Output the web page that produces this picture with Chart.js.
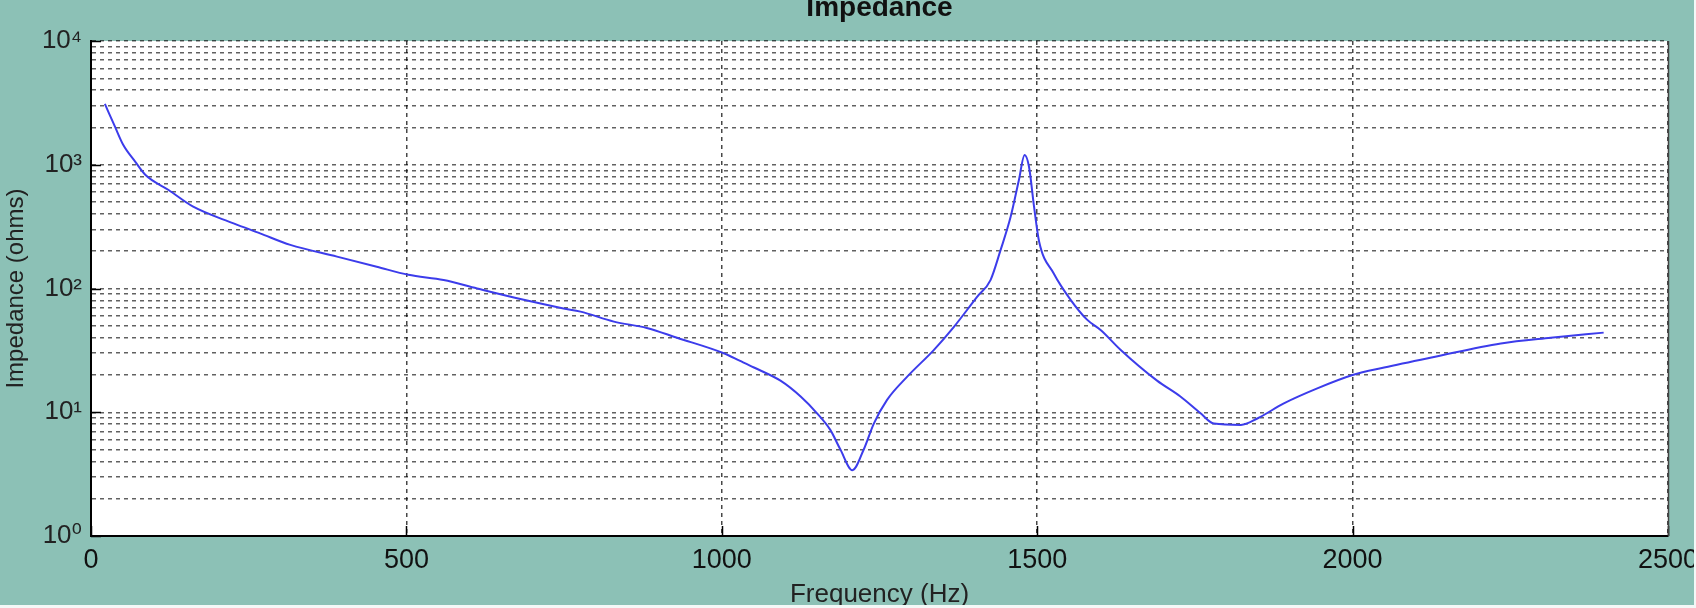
<!DOCTYPE html>
<html>
<head>
<meta charset="utf-8">
<script src="https://cdn.jsdelivr.net/npm/chart.js@4.4.1/dist/chart.umd.min.js"></script>
<style>
  html, body { margin: 0; padding: 0; background: #8cc1b6; }
  #wrap { width: 1696px; height: 608px; position: relative; }
</style>
</head>
<body>
<div id="wrap"><canvas id="c"></canvas></div>
<script>
// ---- data ----
const freqHz = [22,38,51,70,86,123,162,226,268,316,390,453,503,559,612,686,749,776,829,881,929,1003,1029,1051,1093,1125,1151,1172,1188,1207,1225,1241,1262,1294,1336,1368,1405,1426,1442,1458,1471,1480,1487,1495,1503,1526,1553,1579,1601,1632,1690,1727,1759,1780,1823,1849,1891,1944,2000,2050,2129,2235,2314,2398];
const impedanceOhms = [3100,2030,1450,1060,830,625,458,336,279,225,181,150,129,117,100,81,69,65,54,48,40,30,26,23,18,13.4,9.8,7.2,5.0,3.4,5.0,8.1,12.6,19.4,31.8,49,86,117,205,381,753,1200,964,458,240,133,81,56,46,32,18,13.4,9.8,8.1,7.9,8.9,11.8,15.6,20,23,28,36,40,44];

const xTicks = [0,500,1000,1500,2000,2500];
const xTickLabels = ['0','500','1000','1500','2000','2500'];
const yDecades = [1,10,100,1000,10000];
const yTickLabels = ['10\u2070','10\u00b9','10\u00b2','10\u00b3','10\u2074'];
const yMinorMultipliers = [1,2,3,4,5,6,7,8,9];

const titleText = 'Impedance';
const xTitle = 'Frequency (Hz)';
const yTitle = 'Impedance (ohms)';

// ---- build ----
const points = freqHz.map((f, i) => ({ x: f, y: impedanceOhms[i] }));
const yGridValues = [];
for (let d = 0; d < yDecades.length - 1; d++) {
  for (const m of yMinorMultipliers) yGridValues.push(yDecades[d] * m);
}
yGridValues.push(yDecades[yDecades.length - 1]);

const FONT = "'Liberation Sans Narrow', 'Liberation Sans', 'DejaVu Sans', sans-serif";

const decorPlugin = {
  id: 'decor',
  beforeDraw(chart) {
    const { ctx, chartArea: a } = chart;
    ctx.save();
    ctx.fillStyle = '#8cc1b6';
    ctx.fillRect(0, 0, chart.width, chart.height);
    ctx.fillStyle = '#ffffff';
    ctx.fillRect(a.left, a.top, a.right - a.left, a.bottom - a.top);
    ctx.restore();
  },
  afterDraw(chart) {
    const { ctx, chartArea: a, scales } = chart;
    ctx.save();
    ctx.strokeStyle = '#000';
    ctx.lineWidth = 1.5;
    ctx.beginPath();
    for (const v of xTicks) {
      const px = Math.round(scales.x.getPixelForValue(v)) + 0.5;
      ctx.moveTo(px, a.bottom);
      ctx.lineTo(px, a.bottom - 10);
    }
    for (const v of yDecades) {
      const py = Math.round(scales.y.getPixelForValue(v)) + 0.5;
      ctx.moveTo(a.left, py);
      ctx.lineTo(a.left + 10, py);
    }
    ctx.stroke();
    ctx.strokeStyle = '#444';
    ctx.lineWidth = 1.5;
    ctx.beginPath();
    ctx.moveTo(a.right + 0.5, a.top);
    ctx.lineTo(a.right + 0.5, a.bottom);
    ctx.stroke();
    ctx.fillStyle = '#f4f8f7';
    ctx.fillRect(0, chart.height - 3, chart.width, 3);
    ctx.fillRect(chart.width - 2, 0, 2, chart.height);
    ctx.restore();
  }
};

new Chart(document.getElementById('c'), {
  type: 'line',
  data: {
    datasets: [{
      data: points,
      borderColor: 'rgb(60,60,235)',
      borderWidth: 2,
      pointRadius: 0,
      cubicInterpolationMode: 'monotone',
      fill: false
    }]
  },
  options: {
    responsive: true,
    maintainAspectRatio: false,
    animation: false,
    layout: { padding: { left: 0, right: 28, top: 0, bottom: 0 } },
    plugins: {
      legend: { display: false },
      tooltip: { enabled: false },
      title: {
        display: true,
        fullSize: false,
        text: titleText,
        color: '#111',
        font: { family: "'Liberation Sans', 'DejaVu Sans', sans-serif", size: 28, weight: 'bold', lineHeight: 0.6 },
        padding: { top: 0, bottom: 24.2 }
      }
    },
    scales: {
      x: {
        type: 'linear',
        min: 0, max: 2500,
        afterFit(s) { s.height = 72; s.paddingLeft = 0; s.paddingRight = 0; },
        afterBuildTicks(s) { s.ticks = xTicks.map(v => ({ value: v })); },
        ticks: {
          autoSkip: false,
          maxRotation: 0,
          padding: 8,
          color: '#111',
          font: { family: FONT, size: 27 },
          callback(v) { const i = xTicks.indexOf(v); return i >= 0 ? xTickLabels[i] : ''; }
        },
        grid: { color: 'rgba(0,0,0,0.72)', lineWidth: 1.5, drawTicks: false },
        border: { display: true, color: '#000', width: 2, dash: [4, 4] },
        title: {
          display: true, text: xTitle, color: '#222',
          font: { family: "'Liberation Sans', 'DejaVu Sans', sans-serif", size: 26, lineHeight: 1 },
          padding: { top: 0, bottom: 0 }
        }
      },
      y: {
        type: 'logarithmic',
        min: 1, max: 10000,
        afterFit(s) { s.width = 91; s.paddingTop = 0; s.paddingBottom = 0; },
        afterBuildTicks(s) { s.ticks = yGridValues.map(v => ({ value: v })); },
        ticks: {
          autoSkip: false,
          padding: 9,
          color: '#222',
          font: { family: FONT, size: 26 },
          callback(v) { const i = yDecades.indexOf(v); return i >= 0 ? yTickLabels[i] : ''; }
        },
        grid: { color: 'rgba(0,0,0,0.62)', lineWidth: 1.5, drawTicks: false },
        border: { display: true, color: '#000', width: 2, dash: [4, 4] },
        title: {
          display: true, text: yTitle, color: '#222',
          font: { family: "'Liberation Sans', 'DejaVu Sans', sans-serif", size: 24, lineHeight: 1 },
          padding: { top: 4, bottom: 0 }
        }
      }
    }
  },
  plugins: [decorPlugin]
});
</script>
</body>
</html>
